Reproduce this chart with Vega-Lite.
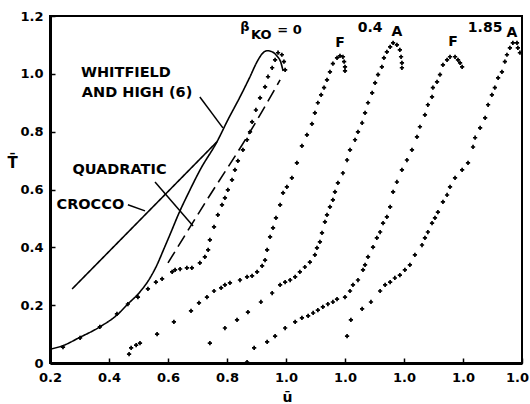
{
  "$schema": "https://vega.github.io/schema/vega-lite/v6.json",
  "width": 472,
  "height": 347,
  "autosize": {"type": "none"},
  "padding": {"left": 50, "top": 16, "right": 8, "bottom": 41},
  "background": "white",
  "config": {
    "view": {"stroke": "black", "strokeWidth": 2},
    "font": "DejaVu Sans",
    "axis": {"grid": false, "domainColor": "black", "domainWidth": 3, "tickColor": "black", "tickWidth": 1.5, "labelColor": "black", "titleColor": "black", "labelFont": "DejaVu Sans", "labelFontWeight": "bold", "labelFontSize": 13, "titleFont": "DejaVu Sans", "titleFontWeight": "bold", "titleFontSize": 15}
  },
  "datasets": {
    "pts": [
      {"series": "b0", "u": 0.244, "T": 0.055}, {"series": "b0", "u": 0.302, "T": 0.087}, {"series": "b0", "u": 0.369, "T": 0.125}, {"series": "b0", "u": 0.427, "T": 0.170}, {"series": "b0", "u": 0.464, "T": 0.204}, {"series": "b0", "u": 0.498, "T": 0.228}, {"series": "b0", "u": 0.532, "T": 0.256}, {"series": "b0", "u": 0.559, "T": 0.280}, {"series": "b0", "u": 0.580, "T": 0.291}, {"series": "b0", "u": 0.614, "T": 0.315}, {"series": "b0", "u": 0.624, "T": 0.322}, {"series": "b0", "u": 0.641, "T": 0.325}, {"series": "b0", "u": 0.664, "T": 0.329}, {"series": "b0", "u": 0.681, "T": 0.329}, {"series": "b0", "u": 0.708, "T": 0.346}, {"series": "b0", "u": 0.725, "T": 0.367}, {"series": "b0", "u": 0.736, "T": 0.391}, {"series": "b0", "u": 0.742, "T": 0.426}, {"series": "b0", "u": 0.756, "T": 0.471}, {"series": "b0", "u": 0.769, "T": 0.512}, {"series": "b0", "u": 0.783, "T": 0.547}, {"series": "b0", "u": 0.793, "T": 0.571}, {"series": "b0", "u": 0.803, "T": 0.599}, {"series": "b0", "u": 0.817, "T": 0.633}, {"series": "b0", "u": 0.827, "T": 0.668}, {"series": "b0", "u": 0.837, "T": 0.699}, {"series": "b0", "u": 0.854, "T": 0.737}, {"series": "b0", "u": 0.868, "T": 0.772}, {"series": "b0", "u": 0.878, "T": 0.799}, {"series": "b0", "u": 0.885, "T": 0.834}, {"series": "b0", "u": 0.898, "T": 0.875}, {"series": "b0", "u": 0.912, "T": 0.917}, {"series": "b0", "u": 0.929, "T": 0.955}, {"series": "b0", "u": 0.939, "T": 0.990}, {"series": "b0", "u": 0.953, "T": 1.021}, {"series": "b0", "u": 0.963, "T": 1.048}, {"series": "b0", "u": 0.973, "T": 1.073}, {"series": "b0", "u": 0.986, "T": 1.066}, {"series": "b0", "u": 0.993, "T": 1.042}, {"series": "b0", "u": 0.997, "T": 1.014},

      {"series": "F1", "u": 0.468, "T": 0.031}, {"series": "F1", "u": 0.475, "T": 0.052}, {"series": "F1", "u": 0.492, "T": 0.062}, {"series": "F1", "u": 0.505, "T": 0.069}, {"series": "F1", "u": 0.563, "T": 0.100}, {"series": "F1", "u": 0.620, "T": 0.142}, {"series": "F1", "u": 0.678, "T": 0.180}, {"series": "F1", "u": 0.705, "T": 0.208}, {"series": "F1", "u": 0.732, "T": 0.228}, {"series": "F1", "u": 0.756, "T": 0.249}, {"series": "F1", "u": 0.780, "T": 0.260}, {"series": "F1", "u": 0.793, "T": 0.270}, {"series": "F1", "u": 0.810, "T": 0.277}, {"series": "F1", "u": 0.844, "T": 0.287}, {"series": "F1", "u": 0.868, "T": 0.298}, {"series": "F1", "u": 0.885, "T": 0.301}, {"series": "F1", "u": 0.902, "T": 0.315}, {"series": "F1", "u": 0.919, "T": 0.336}, {"series": "F1", "u": 0.929, "T": 0.356}, {"series": "F1", "u": 0.936, "T": 0.391}, {"series": "F1", "u": 0.946, "T": 0.436}, {"series": "F1", "u": 0.956, "T": 0.467}, {"series": "F1", "u": 0.966, "T": 0.502}, {"series": "F1", "u": 0.980, "T": 0.547}, {"series": "F1", "u": 0.990, "T": 0.588}, {"series": "F1", "u": 1.003, "T": 0.609}, {"series": "F1", "u": 1.020, "T": 0.640}, {"series": "F1", "u": 1.037, "T": 0.692}, {"series": "F1", "u": 1.054, "T": 0.751}, {"series": "F1", "u": 1.071, "T": 0.789}, {"series": "F1", "u": 1.088, "T": 0.827}, {"series": "F1", "u": 1.098, "T": 0.865}, {"series": "F1", "u": 1.108, "T": 0.900}, {"series": "F1", "u": 1.119, "T": 0.927}, {"series": "F1", "u": 1.129, "T": 0.952}, {"series": "F1", "u": 1.139, "T": 0.979}, {"series": "F1", "u": 1.149, "T": 1.007}, {"series": "F1", "u": 1.159, "T": 1.035}, {"series": "F1", "u": 1.173, "T": 1.055}, {"series": "F1", "u": 1.183, "T": 1.062}, {"series": "F1", "u": 1.193, "T": 1.059}, {"series": "F1", "u": 1.197, "T": 1.042}, {"series": "F1", "u": 1.200, "T": 1.024}, {"series": "F1", "u": 1.200, "T": 1.010},

      {"series": "A04", "u": 0.742, "T": 0.069}, {"series": "A04", "u": 0.793, "T": 0.121}, {"series": "A04", "u": 0.834, "T": 0.149}, {"series": "A04", "u": 0.871, "T": 0.176}, {"series": "A04", "u": 0.915, "T": 0.211}, {"series": "A04", "u": 0.953, "T": 0.242}, {"series": "A04", "u": 0.980, "T": 0.270}, {"series": "A04", "u": 0.997, "T": 0.280}, {"series": "A04", "u": 1.014, "T": 0.287}, {"series": "A04", "u": 1.031, "T": 0.298}, {"series": "A04", "u": 1.047, "T": 0.315}, {"series": "A04", "u": 1.064, "T": 0.332}, {"series": "A04", "u": 1.081, "T": 0.349}, {"series": "A04", "u": 1.098, "T": 0.374}, {"series": "A04", "u": 1.105, "T": 0.398}, {"series": "A04", "u": 1.115, "T": 0.419}, {"series": "A04", "u": 1.122, "T": 0.450}, {"series": "A04", "u": 1.132, "T": 0.488}, {"series": "A04", "u": 1.139, "T": 0.512}, {"series": "A04", "u": 1.149, "T": 0.540}, {"series": "A04", "u": 1.159, "T": 0.564}, {"series": "A04", "u": 1.166, "T": 0.592}, {"series": "A04", "u": 1.176, "T": 0.623}, {"series": "A04", "u": 1.193, "T": 0.657}, {"series": "A04", "u": 1.207, "T": 0.702}, {"series": "A04", "u": 1.217, "T": 0.737}, {"series": "A04", "u": 1.234, "T": 0.772}, {"series": "A04", "u": 1.244, "T": 0.799}, {"series": "A04", "u": 1.258, "T": 0.830}, {"series": "A04", "u": 1.268, "T": 0.865}, {"series": "A04", "u": 1.278, "T": 0.900}, {"series": "A04", "u": 1.292, "T": 0.934}, {"series": "A04", "u": 1.302, "T": 0.969}, {"series": "A04", "u": 1.312, "T": 0.997}, {"series": "A04", "u": 1.325, "T": 1.024}, {"series": "A04", "u": 1.332, "T": 1.055}, {"series": "A04", "u": 1.342, "T": 1.076}, {"series": "A04", "u": 1.353, "T": 1.093}, {"series": "A04", "u": 1.363, "T": 1.107}, {"series": "A04", "u": 1.376, "T": 1.100}, {"series": "A04", "u": 1.386, "T": 1.083}, {"series": "A04", "u": 1.390, "T": 1.059}, {"series": "A04", "u": 1.393, "T": 1.038}, {"series": "A04", "u": 1.393, "T": 1.021},

      {"series": "F2", "u": 0.868, "T": 0.003}, {"series": "F2", "u": 0.892, "T": 0.052}, {"series": "F2", "u": 0.936, "T": 0.073}, {"series": "F2", "u": 0.963, "T": 0.093}, {"series": "F2", "u": 0.997, "T": 0.121}, {"series": "F2", "u": 1.031, "T": 0.142}, {"series": "F2", "u": 1.054, "T": 0.156}, {"series": "F2", "u": 1.075, "T": 0.163}, {"series": "F2", "u": 1.092, "T": 0.173}, {"series": "F2", "u": 1.108, "T": 0.183}, {"series": "F2", "u": 1.125, "T": 0.194}, {"series": "F2", "u": 1.142, "T": 0.204}, {"series": "F2", "u": 1.159, "T": 0.211}, {"series": "F2", "u": 1.173, "T": 0.221}, {"series": "F2", "u": 1.200, "T": 0.228}, {"series": "F2", "u": 1.217, "T": 0.249}, {"series": "F2", "u": 1.227, "T": 0.270}, {"series": "F2", "u": 1.244, "T": 0.287}, {"series": "F2", "u": 1.261, "T": 0.322}, {"series": "F2", "u": 1.268, "T": 0.339}, {"series": "F2", "u": 1.278, "T": 0.367}, {"series": "F2", "u": 1.295, "T": 0.401}, {"series": "F2", "u": 1.308, "T": 0.433}, {"series": "F2", "u": 1.319, "T": 0.453}, {"series": "F2", "u": 1.329, "T": 0.484}, {"series": "F2", "u": 1.342, "T": 0.505}, {"series": "F2", "u": 1.353, "T": 0.540}, {"series": "F2", "u": 1.363, "T": 0.592}, {"series": "F2", "u": 1.376, "T": 0.626}, {"series": "F2", "u": 1.393, "T": 0.668}, {"series": "F2", "u": 1.410, "T": 0.702}, {"series": "F2", "u": 1.427, "T": 0.737}, {"series": "F2", "u": 1.444, "T": 0.782}, {"series": "F2", "u": 1.454, "T": 0.817}, {"series": "F2", "u": 1.471, "T": 0.858}, {"series": "F2", "u": 1.481, "T": 0.893}, {"series": "F2", "u": 1.495, "T": 0.920}, {"series": "F2", "u": 1.498, "T": 0.952}, {"series": "F2", "u": 1.512, "T": 0.972}, {"series": "F2", "u": 1.522, "T": 0.997}, {"series": "F2", "u": 1.532, "T": 1.031}, {"series": "F2", "u": 1.546, "T": 1.048}, {"series": "F2", "u": 1.556, "T": 1.059}, {"series": "F2", "u": 1.573, "T": 1.059}, {"series": "F2", "u": 1.583, "T": 1.048}, {"series": "F2", "u": 1.590, "T": 1.038}, {"series": "F2", "u": 1.597, "T": 1.024},

      {"series": "A185", "u": 1.207, "T": 0.093}, {"series": "A185", "u": 1.220, "T": 0.149}, {"series": "A185", "u": 1.258, "T": 0.187}, {"series": "A185", "u": 1.288, "T": 0.211}, {"series": "A185", "u": 1.319, "T": 0.249}, {"series": "A185", "u": 1.336, "T": 0.270}, {"series": "A185", "u": 1.353, "T": 0.280}, {"series": "A185", "u": 1.369, "T": 0.294}, {"series": "A185", "u": 1.386, "T": 0.304}, {"series": "A185", "u": 1.403, "T": 0.322}, {"series": "A185", "u": 1.420, "T": 0.339}, {"series": "A185", "u": 1.437, "T": 0.374}, {"series": "A185", "u": 1.461, "T": 0.408}, {"series": "A185", "u": 1.471, "T": 0.433}, {"series": "A185", "u": 1.481, "T": 0.453}, {"series": "A185", "u": 1.495, "T": 0.484}, {"series": "A185", "u": 1.505, "T": 0.502}, {"series": "A185", "u": 1.515, "T": 0.522}, {"series": "A185", "u": 1.532, "T": 0.557}, {"series": "A185", "u": 1.546, "T": 0.581}, {"series": "A185", "u": 1.556, "T": 0.609}, {"series": "A185", "u": 1.573, "T": 0.640}, {"series": "A185", "u": 1.597, "T": 0.668}, {"series": "A185", "u": 1.617, "T": 0.692}, {"series": "A185", "u": 1.634, "T": 0.747}, {"series": "A185", "u": 1.641, "T": 0.779}, {"series": "A185", "u": 1.658, "T": 0.813}, {"series": "A185", "u": 1.675, "T": 0.848}, {"series": "A185", "u": 1.685, "T": 0.893}, {"series": "A185", "u": 1.698, "T": 0.927}, {"series": "A185", "u": 1.708, "T": 0.952}, {"series": "A185", "u": 1.719, "T": 0.986}, {"series": "A185", "u": 1.732, "T": 1.007}, {"series": "A185", "u": 1.742, "T": 1.042}, {"series": "A185", "u": 1.749, "T": 1.066}, {"series": "A185", "u": 1.759, "T": 1.090}, {"series": "A185", "u": 1.769, "T": 1.107}, {"series": "A185", "u": 1.783, "T": 1.107}, {"series": "A185", "u": 1.786, "T": 1.090}, {"series": "A185", "u": 1.793, "T": 1.073}
    ],
    "curves": [
      {"curve": "Whitfield", "u": 0.200, "T": 0.048}, {"curve": "Whitfield", "u": 0.241, "T": 0.059}, {"curve": "Whitfield", "u": 0.298, "T": 0.087}, {"curve": "Whitfield", "u": 0.369, "T": 0.125}, {"curve": "Whitfield", "u": 0.427, "T": 0.166}, {"curve": "Whitfield", "u": 0.464, "T": 0.204}, {"curve": "Whitfield", "u": 0.505, "T": 0.246}, {"curve": "Whitfield", "u": 0.539, "T": 0.294}, {"curve": "Whitfield", "u": 0.563, "T": 0.340}, {"curve": "Whitfield", "u": 0.585, "T": 0.392}, {"curve": "Whitfield", "u": 0.610, "T": 0.452}, {"curve": "Whitfield", "u": 0.637, "T": 0.518}, {"curve": "Whitfield", "u": 0.668, "T": 0.585}, {"curve": "Whitfield", "u": 0.710, "T": 0.670}, {"curve": "Whitfield", "u": 0.766, "T": 0.765}, {"curve": "Whitfield", "u": 0.803, "T": 0.841}, {"curve": "Whitfield", "u": 0.844, "T": 0.920}, {"curve": "Whitfield", "u": 0.878, "T": 0.990}, {"curve": "Whitfield", "u": 0.902, "T": 1.042}, {"curve": "Whitfield", "u": 0.919, "T": 1.069}, {"curve": "Whitfield", "u": 0.936, "T": 1.080}, {"curve": "Whitfield", "u": 0.953, "T": 1.076}, {"curve": "Whitfield", "u": 0.969, "T": 1.062}, {"curve": "Whitfield", "u": 0.983, "T": 1.038}, {"curve": "Whitfield", "u": 0.990, "T": 1.010},
      {"curve": "Crocco", "u": 0.275, "T": 0.256}, {"curve": "Crocco", "u": 0.766, "T": 0.765},
      {"curve": "Quadratic", "u": 0.600, "T": 0.346}, {"curve": "Quadratic", "u": 0.732, "T": 0.564}, {"curve": "Quadratic", "u": 0.868, "T": 0.782}, {"curve": "Quadratic", "u": 0.980, "T": 0.979}
    ],
    "leaders": [
      {"u": 0.708, "T": 0.920, "u2": 0.786, "T2": 0.813},
      {"u": 0.556, "T": 0.626, "u2": 0.685, "T2": 0.474},
      {"u": 0.464, "T": 0.547, "u2": 0.522, "T2": 0.526}
    ],
    "labels": [
      {"kind": "left", "text": "WHITFIELD", "u": 0.305, "T": 1.003},
      {"kind": "left", "text": "AND HIGH (6)", "u": 0.308, "T": 0.934},
      {"kind": "left", "text": "QUADRATIC", "u": 0.276, "T": 0.668},
      {"kind": "left", "text": "CROCCO", "u": 0.222, "T": 0.547},
      {"kind": "small", "text": "β", "u": 0.861, "T": 1.163},
      {"kind": "small", "text": "KO", "u": 0.916, "T": 1.133},
      {"kind": "small", "text": "= 0", "u": 1.012, "T": 1.152},
      {"kind": "center", "text": "F", "u": 1.183, "T": 1.107},
      {"kind": "center", "text": "0.4", "u": 1.285, "T": 1.159},
      {"kind": "center", "text": "A", "u": 1.376, "T": 1.145},
      {"kind": "center", "text": "F", "u": 1.566, "T": 1.111},
      {"kind": "center", "text": "1.85", "u": 1.675, "T": 1.159},
      {"kind": "center", "text": "A", "u": 1.766, "T": 1.142}
    ]
  },
  "encoding": {
    "x": {"field": "u", "type": "quantitative", "scale": {"domain": [0.2, 1.8], "nice": false, "zero": false},
      "axis": {"values": [0.2, 0.4, 0.6, 0.8, 1.0, 1.2, 1.4, 1.6, 1.8], "labelExpr": "datum.value > 1.01 ? '1.0' : format(datum.value, '.1f')", "tickSize": -5, "labelPadding": 13, "labelOffset": {"condition": {"test": "datum.value > 1.79", "value": -5}, "value": 0}, "title": "ū", "titleX": 237, "titleY": 34, "titleBaseline": "middle", "titleFontSize": 14, "labelFlush": false, "labelOverlap": false}},
    "y": {"field": "T", "type": "quantitative", "scale": {"domain": [0, 1.2], "nice": false, "zero": false},
      "axis": {"values": [0, 0.2, 0.4, 0.6, 0.8, 1.0, 1.2], "labelExpr": "datum.value == 0 ? '0' : format(datum.value, '.1f')", "tickSize": -5, "labelPadding": 12, "title": "T̄", "titleAngle": 0, "titleX": -38, "titleY": 146, "titleAlign": "center", "titleBaseline": "middle", "labelFlush": false, "labelOverlap": false}}
  },
  "layer": [
    {
      "data": {"name": "curves"},
      "mark": {"type": "line", "color": "black", "strokeWidth": 1.6, "interpolate": "monotone"},
      "encoding": {
        "detail": {"field": "curve"},
        "strokeDash": {"field": "curve", "type": "nominal", "scale": {"domain": ["Crocco", "Quadratic", "Whitfield"], "range": [[1, 0], [13, 6], [1, 0]]}, "legend": null}
      }
    },
    {
      "data": {"name": "leaders"},
      "mark": {"type": "rule", "color": "black", "strokeWidth": 1.5},
      "encoding": {"x2": {"field": "u2"}, "y2": {"field": "T2"}}
    },
    {
      "data": {"name": "pts"},
      "mark": {"type": "point", "shape": "cross", "filled": true, "color": "black", "size": 18, "opacity": 1},
      "encoding": {"detail": {"field": "series"}}
    },
    {
      "data": {"name": "labels"},
      "transform": [{"filter": "datum.kind == 'left'"}],
      "mark": {"type": "text", "align": "left", "baseline": "middle", "font": "DejaVu Sans", "fontWeight": "bold", "fontSize": 14.5, "color": "black"},
      "encoding": {"text": {"field": "text"}}
    },
    {
      "data": {"name": "labels"},
      "transform": [{"filter": "datum.kind == 'center'"}],
      "mark": {"type": "text", "align": "center", "baseline": "middle", "font": "DejaVu Sans", "fontWeight": "bold", "fontSize": 14, "color": "black"},
      "encoding": {"text": {"field": "text"}}
    },
    {
      "data": {"name": "labels"},
      "transform": [{"filter": "datum.kind == 'small'"}],
      "mark": {"type": "text", "align": "center", "baseline": "middle", "font": "DejaVu Sans", "fontWeight": "bold", "fontSize": 13, "color": "black"},
      "encoding": {"text": {"field": "text"}}
    }
  ]
}
